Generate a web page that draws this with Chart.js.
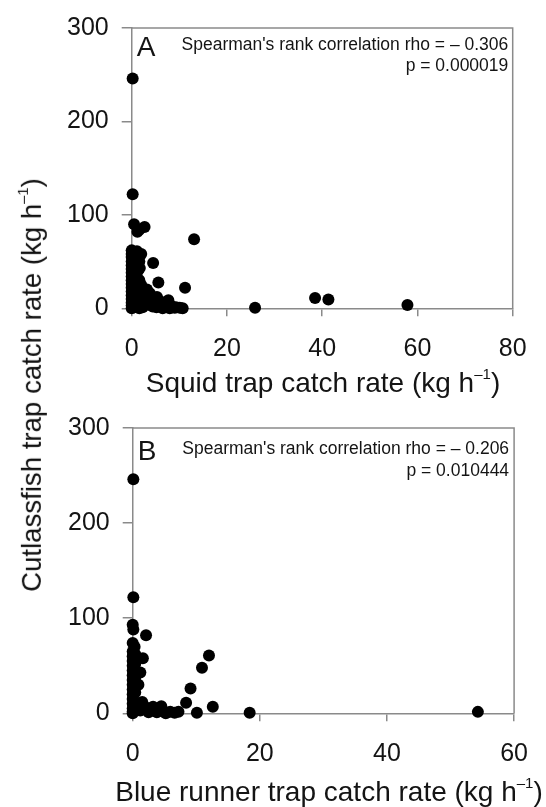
<!DOCTYPE html>
<html><head><meta charset="utf-8">
<script src="https://cdn.jsdelivr.net/npm/chart.js@4"></script>
<style>
html,body{margin:0;padding:0;background:#fff;width:546px;height:807px;overflow:hidden;}
#cA{position:absolute;left:0;top:0;}
#cB{position:absolute;left:0;top:400px;}
#ytitle{position:absolute;left:0;top:0;white-space:nowrap;font-family:"Liberation Sans Narrow","Arial Narrow","Liberation Sans",Arial,sans-serif;font-size:28px;line-height:28px;color:#111;transform-origin:center center;}
#ytitle sup{font-size:15px;vertical-align:baseline;position:relative;top:-13px;}
</style></head>
<body>
<canvas id="cA" width="546" height="400"></canvas>
<canvas id="cB" width="546" height="407"></canvas>
<div id="ytitle"></div>
<script>
// ---- data ----
const squidX = [0.2,0.2,0.5,1.6,2.7,1.2,13.1,4.5,2.0,11.2,5.6,25.9,38.5,41.3,57.9,7.7,1.7,
  0,0,0,0,0,0,0,0,0,0,0,0,0,0,0,0,0,
  0.6,0.6,0.6,0.6,0.6,0.6,0.6,0.6,0.6,
  1.1,1.1,1.1,1.1,1.1,1.1,1.1,1.1,
  1.6,1.6,1.6,1.6,1.6,1.6,1.6,
  2.3,2.3,2.3,2.3,
  3.2,3.8,3.0,4.2,5.3,4.6,6.0,7.0,8.5,9.3,10.1,10.7,6.5,5.2,3.5,2.8,8.0,9.0,
  2.5,3.6,4.4,5.8,7.4,2.0,1.3,0.3];
const cutlassA = [246,122,90,84,87,82,74,48.5,58,22,27.5,0.5,11,9.5,3.5,8.5,43,
  62,58,55,50,46,42,38,34,30,26,22,18,14,10,6,3,0,
  60,52,44,36,28,20,12,5,1,
  61,54,47,33,25,17,9,2,
  58,50,30,22,15,8,0,
  20,13,6,1,
  20,16,12,11,12,6,5,3,2,1,0.5,0,0,1,4,7,0,0.5,
  14,8,2,8,1,25,40,40];
const blueRunnerX = [0.1,0.1,0,0.1,2.1,0,0.3,1.6,12.0,10.9,9.1,8.4,12.6,10.1,18.4,54.3,
  0,0,0,0,0,0,0,0,0,0,0,0,0,0,0,
  0.4,0.4,0.4,0.4,0.4,0.4,
  1.2,0.9,
  1.9,3.2,4.5,5.9,7.2,1.2,2.5,3.8,5.2,6.6,0.8,1.5];
const cutlassB = [246,122,93,88,82,74,70,58,60.7,48,26,11,7,0.6,0.6,1.5,
  65,60,55,50,45,40,35,30,25,20,15,10,5,2,0,
  62,52,38,22,12,6,
  43,30,
  7,7,7.5,1.7,1.7,3,1,1,0,0.5,8,12];
const yTicks = [0,100,200,300];
const xTicksA = [0,20,40,60,80];
const xTicksB = [0,20,40,60];
const panelLetters = ['A','B'];
const rhoTexts = ["Spearman's rank correlation rho = \u2013 0.306", "Spearman's rank correlation rho = \u2013 0.206"];
const pTexts = ['p = 0.000019','p = 0.010444'];
const xTitles = ['Squid trap catch rate (kg h', 'Blue runner trap catch rate (kg h'];
const yTitle = 'Cutlassfish trap catch rate (kg h';
const supText = '\u20131';

// ---- styling ----
const FONT = '"Liberation Sans", Arial, sans-serif';
const AXIS = '#8a8a8a';
const INK = '#141414';
Chart.defaults.font.family = FONT;

const panelPlugin = {
  id: 'panelDeco',
  afterDatasetsDraw(chart, args, o) {
    const {ctx, chartArea: a} = chart;
    ctx.save();
    ctx.strokeStyle = AXIS; ctx.lineWidth = 1.5;
    ctx.beginPath(); ctx.moveTo(a.left, a.top); ctx.lineTo(a.right, a.top); ctx.lineTo(a.right, a.bottom); ctx.stroke();
    ctx.fillStyle = INK; ctx.textBaseline = 'alphabetic';
    ctx.font = '28px ' + FONT; ctx.textAlign = 'left';
    ctx.fillText(o.letter, a.left + o.letterDx, a.top + o.letterDy);
    ctx.font = '17.5px ' + FONT; ctx.textAlign = 'right';
    ctx.fillText(o.rho, a.right - o.textDx, a.top + o.rhoDy);
    ctx.fillText(o.p, a.right - o.textDx, a.top + o.pDy);
    // x-axis title with superscript
    ctx.textAlign = 'left';
    ctx.font = '28px ' + FONT;
    const w1 = ctx.measureText(o.xTitle).width, w3 = ctx.measureText(')').width;
    ctx.font = '15px ' + FONT;
    const w2 = ctx.measureText(supText).width;
    let x = o.titleCx - (w1 + w2 + w3) / 2;
    const by = a.bottom + o.titleDy;
    ctx.font = '28px ' + FONT; ctx.fillText(o.xTitle, x, by); x += w1;
    ctx.font = '15px ' + FONT; ctx.fillText(supText, x, by - 13); x += w2;
    ctx.font = '28px ' + FONT; ctx.fillText(')', x, by);
    ctx.restore();
  }
};

function makeChart(id, xs, ys, xTicks, xMax, geom, deco) {
  const H = document.getElementById(id).height;
  return new Chart(document.getElementById(id), {
    type: 'scatter',
    data: { datasets: [{ data: xs.map((x, i) => ({x, y: ys[i]})), pointRadius: 6, pointHoverRadius: 6,
      backgroundColor: '#000', borderWidth: 0, clip: false }] },
    options: {
      responsive: false, animation: false, events: [],
      layout: { padding: { left: 0, top: geom.top, right: 546 - geom.right, bottom: 0 } },
      plugins: { legend: { display: false }, tooltip: { enabled: false }, panelDeco: deco },
      scales: {
        x: { type: 'linear', min: 0, max: xMax,
          afterBuildTicks: s => { s.ticks = xTicks.map(v => ({value: v})); },
          afterFit: s => { s.height = H - geom.bottom; },
          grid: { display: true, drawOnChartArea: false, drawTicks: true, tickLength: 8, color: AXIS, lineWidth: 1.5 },
          border: { display: true, color: AXIS, width: 1.5 },
          ticks: { font: { size: 25 }, color: INK, padding: 18, maxRotation: 0 } },
        y: { type: 'linear', min: 0, max: 300,
          afterBuildTicks: s => { s.ticks = yTicks.map(v => ({value: v})); },
          afterFit: s => { s.width = geom.left; },
          grid: { display: true, drawOnChartArea: false, drawTicks: true, tickLength: 10, color: AXIS, lineWidth: 1.5 },
          border: { display: true, color: AXIS, width: 1.5 },
          ticks: { font: { size: 25 }, color: INK, padding: 13 } }
      }
    },
    plugins: [panelPlugin]
  });
}

makeChart('cA', squidX, cutlassA, xTicksA, 80,
  { left: 131.7, right: 512.7, top: 20.7, bottom: 308.3 },
  { letter: panelLetters[0], letterDx: 5, letterDy: 27.6, rho: rhoTexts[0], p: pTexts[0],
    textDx: 4.4, rhoDy: 21.6, pDy: 42.6, xTitle: xTitles[0], titleCx: 323, titleDy: 83.4 });
makeChart('cB', blueRunnerX, cutlassB, xTicksB, 60,
  { left: 132.7, right: 515, top: 25, bottom: 313.3 },
  { letter: panelLetters[1], letterDx: 5, letterDy: 31.7, rho: rhoTexts[1], p: pTexts[1],
    textDx: 5, rhoDy: 25.5, pDy: 47.7, xTitle: xTitles[1], titleCx: 329, titleDy: 87.7 });

// rotated y title spanning both panels
const yt = document.getElementById('ytitle');
yt.innerHTML = yTitle + '<sup>' + supText + '</sup>)';
const w = yt.offsetWidth, h = yt.offsetHeight;
const cx = 34, cy = 385, targetLen = 414;
yt.style.left = (cx - w / 2) + 'px';
yt.style.top = (cy - h / 2) + 'px';
yt.style.transform = 'rotate(-90deg) scaleX(' + (targetLen / w) + ')';
</script>
</body></html>
